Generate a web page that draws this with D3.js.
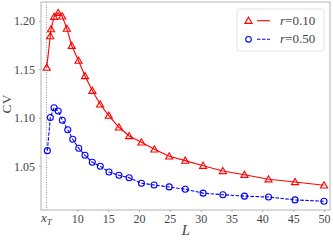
<!DOCTYPE html>
<html>
<head>
<meta charset="utf-8">
<script src="https://cdn.jsdelivr.net/npm/d3@7"></script>
<style>
  body { margin: 0; background: #fff; }
  svg text { font-family: "Liberation Serif", "DejaVu Serif", serif; }
</style>
</head>
<body>
<svg id="chart" width="333" height="242"></svg>
<script>
// ── Data ─────────────────────────────────────────────────────────────────────
const redL  = [5.04, 5.62, 5.74, 6.25, 6.9, 7.55, 8.3, 9.1, 10.2, 11.25, 12.45, 13.7, 15.1,
               16.75, 18.4, 20.4, 22.5, 24.9, 27.5, 30.4, 33.6, 37.1, 41.0, 45.3, 50.0];
const redCV = [1.1516, 1.1842, 1.1914, 1.2041, 1.2082, 1.2045, 1.1918, 1.1742, 1.1588, 1.143,
               1.1278, 1.1138, 1.1021, 1.0901, 1.0811, 1.0746, 1.0674, 1.0602, 1.0557, 1.0505,
               1.0451, 1.0412, 1.0365, 1.0337, 1.0303];
const blueL  = [5.14, 5.63, 6.23, 6.9, 7.57, 8.45, 9.26, 10.23, 11.25, 12.43, 13.73, 15.14,
                16.76, 18.4, 20.4, 22.45, 24.9, 27.5, 30.4, 33.6, 37.1, 41.0, 45.3, 50.0];
const blueCV = [1.066, 1.1002, 1.1103, 1.1069, 1.0973, 1.0876, 1.0777, 1.0685, 1.0612, 1.054,
                1.0499, 1.044, 1.0406, 1.0381, 1.0324, 1.0306, 1.0286, 1.0262, 1.0222, 1.0206,
                1.0191, 1.0182, 1.0152, 1.0138];
const xT = 5.0;
const xTicks = [10, 15, 20, 25, 30, 35, 40, 45, 50];
const yTicks = [1.05, 1.10, 1.15, 1.20];
const labels = ['0.10', '0.50'];

// ── Layout ───────────────────────────────────────────────────────────────────
const svg = d3.select('#chart');
const mL = 41, mR = 330, mT = 2, mB = 210;
const x = d3.scaleLinear().domain([4.114, 50.97]).range([mL, mR]);
const y = d3.scaleLinear().domain([1.0048, 1.2193]).range([mB, mT]);
const AXIS = '#b3b3b3', TXT = '#444';

// dotted x_T marker
svg.append('line')
  .attr('x1', x(xT)).attr('x2', x(xT)).attr('y1', mT).attr('y2', mB)
  .attr('stroke', '#888').attr('stroke-width', 0.9).attr('stroke-dasharray', '1,1.5');

// frame
svg.append('rect')
  .attr('x', mL).attr('y', mT).attr('width', mR - mL).attr('height', mB - mT)
  .attr('fill', 'none').attr('stroke', AXIS).attr('stroke-width', 1);

// axes: short grey ticks, serif labels
const xAxis = svg.append('g').attr('transform', `translate(0,${mB})`)
  .call(d3.axisBottom(x).tickValues(xTicks).tickSize(2).tickPadding(2).tickFormat(d3.format('d')));
const yAxis = svg.append('g').attr('transform', `translate(${mL},0)`)
  .call(d3.axisLeft(y).tickValues(yTicks).tickSize(2).tickPadding(4).tickFormat(d3.format('.2f')));
[xAxis, yAxis].forEach(a => {
  a.select('.domain').remove();
  a.selectAll('.tick line').attr('stroke', AXIS);
  a.selectAll('text').attr('fill', TXT).style('font-size', '12px')
    .style('font-family', '"Liberation Serif", serif');
});

// x_T tick label
const xt = svg.append('text').attr('x', x(xT)).attr('y', mB + 12)
  .attr('text-anchor', 'middle').attr('fill', TXT).style('font-size', '13px');
xt.append('tspan').style('font-style', 'italic').text('x');
xt.append('tspan').attr('dy', 2.5).style('font-size', '9px').style('font-style', 'italic').text('T');

// axis titles
svg.append('text').attr('x', 186).attr('y', 235).attr('text-anchor', 'middle')
  .attr('fill', TXT).style('font-size', '15px').style('font-style', 'italic').text('L');
svg.append('text').attr('transform', 'translate(10.5,104) rotate(-90)').attr('text-anchor', 'middle')
  .attr('fill', TXT).style('font-size', '13.5px').text('CV');

// ── Series ───────────────────────────────────────────────────────────────────
const line = d3.line().x(d => x(d[0])).y(d => y(d[1]));
const red  = redL.map((l, i) => [l, redCV[i]]);
const blue = blueL.map((l, i) => [l, blueCV[i]]);
const RED = '#ff0000', BLUE = '#0000ff';
const tri = d3.symbol().type(d3.symbolTriangle).size(22);

svg.append('path').datum(red).attr('d', line)
  .attr('fill', 'none').attr('stroke', RED).attr('stroke-width', 1.1);
svg.append('g').selectAll('path').data(red).join('path')
  .attr('d', tri).attr('transform', d => `translate(${x(d[0])},${y(d[1]) + 0.6})`)
  .attr('fill', 'none').attr('stroke', RED).attr('stroke-width', 1.1);

svg.append('path').datum(blue).attr('d', line)
  .attr('fill', 'none').attr('stroke', BLUE).attr('stroke-width', 1.1).attr('stroke-dasharray', '3.5,1.5');
svg.append('g').selectAll('circle').data(blue).join('circle')
  .attr('cx', d => x(d[0])).attr('cy', d => y(d[1])).attr('r', 3)
  .attr('fill', 'none').attr('stroke', BLUE).attr('stroke-width', 1.1);

// ── Legend ───────────────────────────────────────────────────────────────────
const lg = svg.append('g');
lg.append('rect').attr('x', 237).attr('y', 9).attr('width', 87).attr('height', 42).attr('rx', 2.5)
  .attr('fill', '#fff').attr('stroke', '#e2e2e2').attr('stroke-width', 1);
[0, 1].forEach(i => {
  const cy = 20.7 + i * 18.6;
  const c = i === 0 ? RED : BLUE;
  if (i === 0) {
    lg.append('path').attr('d', tri).attr('transform', `translate(248.5,${cy + 0.6})`)
      .attr('fill', 'none').attr('stroke', c).attr('stroke-width', 1.1);
  } else {
    lg.append('circle').attr('cx', 248.5).attr('cy', cy).attr('r', 2.8)
      .attr('fill', 'none').attr('stroke', c).attr('stroke-width', 1.1);
  }
  lg.append('line').attr('x1', 257).attr('x2', 270).attr('y1', cy).attr('y2', cy)
    .attr('stroke', c).attr('stroke-width', 1.1)
    .attr('stroke-dasharray', i === 0 ? null : '3.5,1.5');
  const t = lg.append('text').attr('x', 280).attr('y', cy + 4).attr('fill', TXT).style('font-size', '13px');
  t.append('tspan').style('font-style', 'italic').text('r');
  t.append('tspan').text('=' + labels[i]);
});
</script>
</body>
</html>
